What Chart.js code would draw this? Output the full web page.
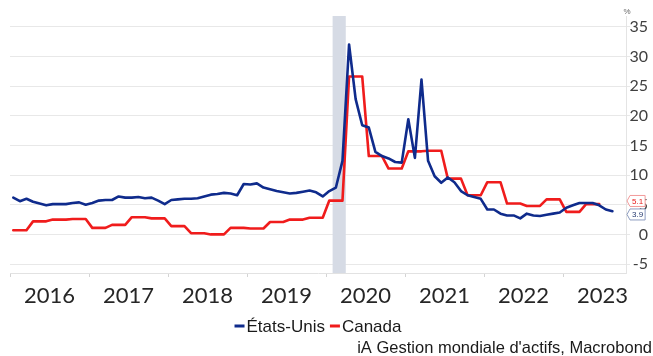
<!DOCTYPE html>
<html>
<head>
<meta charset="utf-8">
<script src="https://cdn.jsdelivr.net/npm/chart.js@4.4.1/dist/chart.umd.min.js"></script>
<style>
  html, body { margin: 0; padding: 0; background: #fff; }
  #wrap { width: 653px; height: 356px; }
</style>
</head>
<body>
<div id="wrap"><canvas id="chart" width="653" height="356"></canvas></div>
<script>
// Monthly series, first value is January 2016
const startYear = 2016;
const seriesNames = ['États-Unis', 'Canada'];

const usValues = [
  6.2, 5.6, 6.0, 5.5, 5.2, 4.9, 5.1, 5.1, 5.1, 5.3, 5.4, 5.0,   // 2016
  5.3, 5.7, 5.8, 5.8, 6.4, 6.2, 6.2, 6.3, 6.1, 6.2, 5.7, 5.1,   // 2017
  5.8, 5.9, 6.0, 6.0, 6.1, 6.4, 6.7, 6.8, 7.0, 6.9, 6.6, 8.5,   // 2018
  8.4, 8.6, 7.9, 7.6, 7.3, 7.1, 6.9, 7.0, 7.2, 7.4, 7.1, 6.4,   // 2019
  7.3, 7.9, 12.4, 32.0, 22.8, 18.4, 18.0, 13.9, 13.2, 12.8, 12.2, 12.1, // 2020
  19.4, 12.9, 26.1, 12.4, 9.8, 8.7, 9.6, 8.8, 7.3, 6.6, 6.3, 6.0, // 2021
  4.2, 4.2, 3.5, 3.2, 3.2, 2.7, 3.5, 3.2, 3.1, 3.3, 3.5, 3.7,   // 2022
  4.5, 4.9, 5.3, 5.3, 5.3, 4.9, 4.2, 3.9                        // 2023
];

// Canada is published quarterly, so each quarter repeats over its months
const canadaValues = [
  0.7, 0.7, 0.7, 2.2, 2.2, 2.2, 2.5, 2.5, 2.5, 2.6, 2.6, 2.6,   // 2016
  1.1, 1.1, 1.1, 1.6, 1.6, 1.6, 2.9, 2.9, 2.9, 2.7, 2.7, 2.7,   // 2017
  1.4, 1.4, 1.4, 0.2, 0.2, 0.2, 0.0, 0.0, 0.0, 1.1, 1.1, 1.1,   // 2018
  1.0, 1.0, 1.0, 2.1, 2.1, 2.1, 2.5, 2.5, 2.5, 2.8, 2.8, 2.8,   // 2019
  5.7, 5.7, 5.7, 26.6, 26.6, 26.6, 13.2, 13.2, 13.2, 11.1, 11.1, 11.1, // 2020
  14.0, 14.0, 14.0, 14.1, 14.1, 14.1, 9.4, 9.4, 9.4, 6.6, 6.6, 6.6, // 2021
  8.8, 8.8, 8.8, 5.2, 5.2, 5.2, 4.8, 4.8, 4.8, 5.9, 5.9, 5.9,   // 2022
  3.8, 3.8, 3.8, 5.1, 5.1, 5.1                                  // 2023
];

const recession = [2020 + 1 / 12, 2020 + 3 / 12];   // Feb - Mar 2020
const years = [2016, 2017, 2018, 2019, 2020, 2021, 2022, 2023];
const yTicks = [-5, 0, 5, 10, 15, 20, 25, 30, 35];
const sourceText = "iA Gestion mondiale d'actifs, Macrobond";

const colors = ['#0f2b8c', '#f01c1c'];

// place each monthly value in the middle of its month
function toPoints(values) {
  return values.map((v, i) => ({ x: startYear + (i + 0.5) / 12, y: v }));
}

const extras = {
  id: 'extras',
  beforeDatasetsDraw(chart) {
    const { ctx, chartArea, scales } = chart;
    const x0 = scales.x.getPixelForValue(recession[0]);
    const x1 = scales.x.getPixelForValue(recession[1]);
    ctx.save();
    ctx.fillStyle = '#d6dbe5';
    ctx.fillRect(x0, chartArea.top, x1 - x0, chartArea.bottom - chartArea.top);
    ctx.restore();
  },
  afterDraw(chart) {
    const { ctx, chartArea, scales } = chart;
    const sets = chart.data.datasets;
    ctx.save();

    // unit above the axis
    ctx.fillStyle = '#666';
    ctx.font = '8px "Liberation Sans"';
    ctx.textAlign = 'center';
    ctx.textBaseline = 'middle';
    ctx.fillText('%', chartArea.right + 1, 12);

    // last value tags on the right axis
    const tags = sets.map((ds, i) => {
      const v = ds.data[ds.data.length - 1].y;
      return { v, y: scales.y.getPixelForValue(v), i };
    }).sort((a, b) => a.y - b.y);
    const gap = 13.5;
    for (let k = 1; k < tags.length; k++) {
      if (tags[k].y - tags[k - 1].y < gap) {
        const mid = (tags[k].y + tags[k - 1].y) / 2;
        tags[k - 1].y = mid - gap / 2;
        tags[k].y = mid + gap / 2;
      }
    }
    const tagBorder = ['#8d9cc0', '#f29a9a'];
    const tagText = ['#24396e', '#e81818'];
    ctx.font = '8px "Liberation Sans"';
    ctx.textAlign = 'left';
    tags.forEach(t => {
      const label = t.v.toFixed(1);
      const w = ctx.measureText(label).width + 4;
      const xa = chartArea.right + 1;
      const xb = xa + 3;
      ctx.beginPath();
      ctx.moveTo(xa, t.y);
      ctx.lineTo(xb, t.y - 5.5);
      ctx.lineTo(xb + w, t.y - 5.5);
      ctx.lineTo(xb + w, t.y + 5.5);
      ctx.lineTo(xb, t.y + 5.5);
      ctx.closePath();
      ctx.fillStyle = '#fff';
      ctx.fill();
      ctx.strokeStyle = tagBorder[t.i];
      ctx.lineWidth = 1;
      ctx.stroke();
      ctx.fillStyle = tagText[t.i];
      ctx.fillText(label, xb + 2, t.y + 0.5);
    });

    // legend under the axis
    ctx.font = '17px "Liberation Sans"';
    ctx.textBaseline = 'alphabetic';
    const items = sets.map(ds => ({ ds, w: 12 + ctx.measureText(ds.label).width }));
    const total = items.reduce((s, it) => s + it.w, 0) + 5 * (items.length - 1);
    let lx = (chartArea.left + chartArea.right) / 2 - total / 2;
    items.forEach(it => {
      ctx.fillStyle = it.ds.borderColor;
      ctx.fillRect(lx, 324.5, 10, 3);
      ctx.fillStyle = '#1a1a1a';
      ctx.fillText(it.ds.label, lx + 12, 332);
      lx += it.w + 5;
    });

    // source line
    ctx.font = '16.5px "Liberation Sans"';
    ctx.textAlign = 'right';
    ctx.fillText(sourceText, 652, 353);
    ctx.restore();
  }
};

new Chart(document.getElementById('chart'), {
  type: 'line',
  data: {
    datasets: [
      { label: seriesNames[0], data: toPoints(usValues), borderColor: colors[0], backgroundColor: colors[0] },
      { label: seriesNames[1], data: toPoints(canadaValues), borderColor: colors[1], backgroundColor: colors[1] }
    ]
  },
  options: {
    responsive: false,
    animation: false,
    devicePixelRatio: 1,
    layout: { padding: { left: 10, top: 16, right: 5, bottom: 43 } },
    elements: {
      line: { borderWidth: 2.6, tension: 0, borderJoinStyle: 'round', borderCapStyle: 'round' },
      point: { radius: 0 }
    },
    plugins: {
      legend: { display: false },
      tooltip: { enabled: false }
    },
    scales: {
      x: {
        type: 'linear',
        min: startYear,
        max: startYear + 7.797,
        afterBuildTicks: scale => {
          scale.ticks = years.map(v => ({ value: v }));
        },
        afterFit: scale => {
          scale.height = 40;
          // labels sit mid-year, so no extra room is needed at the edges
          scale.paddingLeft = 0;
          scale.paddingRight = 0;
        },
        ticks: {
          autoSkip: false,
          maxRotation: 0,
          labelOffset: 39.5,
          padding: 6,
          color: '#262626',
          font: { family: 'Lato', size: 22 },
          callback: v => String(v)
        },
        grid: { drawOnChartArea: false, tickLength: 4, color: '#d4d4d4' },
        border: { color: '#e2e2e2' }
      },
      y: {
        position: 'right',
        min: -6.5,
        max: 36.8,
        afterBuildTicks: scale => {
          scale.ticks = yTicks.map(v => ({ value: v }));
        },
        afterFit: scale => { scale.width = 22; },
        ticks: {
          crossAlign: 'far',
          padding: 2,
          color: '#404040',
          font: { family: 'Lato', size: 16 }
        },
        grid: { color: '#e8e8e8', tickLength: 4 },
        border: { color: '#e4e4e4' }
      }
    }
  },
  plugins: [extras]
});
</script>
</body>
</html>
